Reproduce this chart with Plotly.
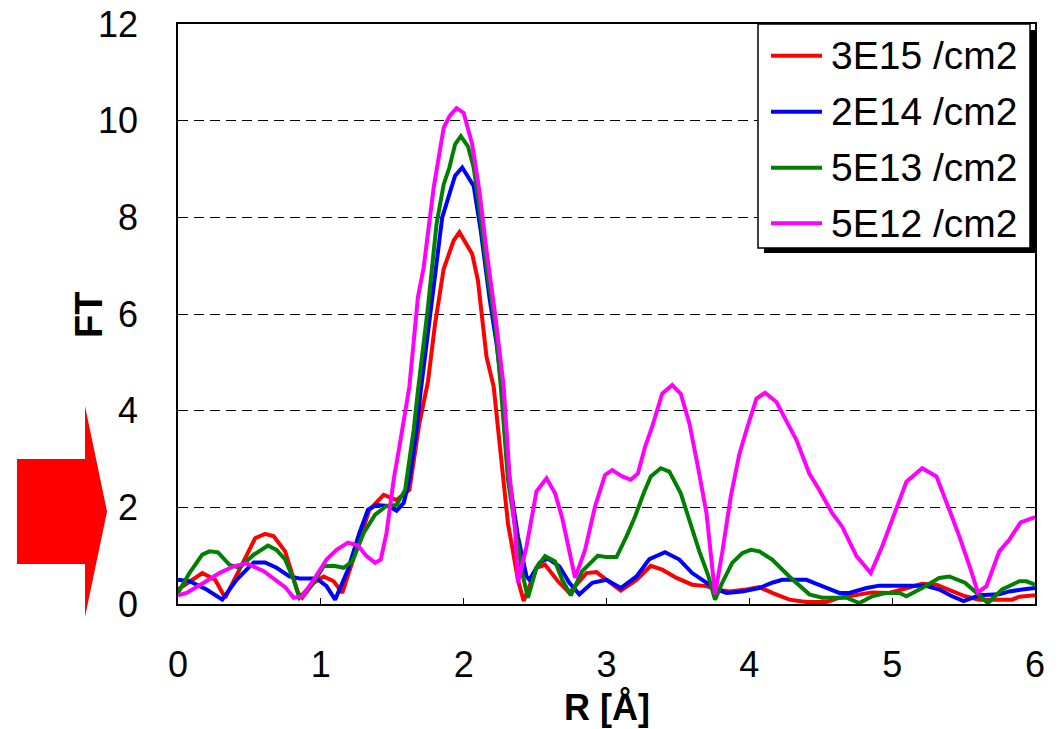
import plotly.graph_objects as go

# ---------------- data (R [Å], FT) ----------------
SERIES_NAMES = ["3E15 /cm2", "2E14 /cm2", "5E13 /cm2", "5E12 /cm2"]

R_3E15 = [0, 0.17, 0.26, 0.33, 0.43, 0.54, 0.61, 0.67, 0.75, 0.84, 0.87, 0.95, 1.02, 1.09, 1.15, 1.24,
          1.34, 1.44, 1.53, 1.62, 1.69, 1.75, 1.80, 1.86, 1.93, 1.97, 2.06, 2.10, 2.16, 2.21, 2.31, 2.38,
          2.42, 2.51, 2.57, 2.66, 2.74, 2.86, 2.93, 3.00, 3.10, 3.21, 3.31, 3.39, 3.49, 3.60, 3.70, 3.77,
          3.86, 3.98, 4.07, 4.16, 4.28, 4.40, 4.54, 4.63, 4.75, 4.86, 4.98, 5.10, 5.21, 5.31, 5.40, 5.51,
          5.61, 5.70, 5.84, 5.89, 6.00]
FT_3E15 = [0.30, 0.64, 0.50, 0.13, 0.71, 1.36, 1.45, 1.40, 1.09, 0.23, 0.13, 0.44, 0.57, 0.47, 0.23, 1.06,
           1.95, 2.26, 2.15, 2.36, 3.74, 4.60, 5.80, 6.93, 7.52, 7.69, 7.24, 6.69, 5.11, 4.50, 1.67, 0.50,
           0.06, 0.75, 0.81, 0.47, 0.23, 0.64, 0.66, 0.50, 0.28, 0.50, 0.79, 0.71, 0.54, 0.40, 0.37, 0.30,
           0.26, 0.30, 0.35, 0.23, 0.09, 0.04, 0.04, 0.13, 0.18, 0.24, 0.23, 0.33, 0.42, 0.40, 0.30, 0.16,
           0.09, 0.09, 0.09, 0.15, 0.18]

R_2E14 = [0, 0.08, 0.20, 0.31, 0.41, 0.53, 0.61, 0.69, 0.78, 0.85, 0.97, 1.04, 1.10, 1.19, 1.27, 1.33,
          1.39, 1.47, 1.53, 1.58, 1.62, 1.67, 1.70, 1.79, 1.85, 1.90, 1.94, 1.99, 2.07, 2.12, 2.18, 2.23,
          2.27, 2.32, 2.38, 2.44, 2.46, 2.53, 2.59, 2.67, 2.74, 2.81, 2.90, 3.00, 3.10, 3.21, 3.30, 3.41,
          3.51, 3.60, 3.70, 3.77, 3.84, 3.95, 4.07, 4.16, 4.23, 4.40, 4.51, 4.63, 4.70, 4.82, 4.91, 5.23,
          5.33, 5.42, 5.50, 5.61, 5.75, 5.82, 5.91, 6.00]
FT_2E14 = [0.50, 0.47, 0.30, 0.09, 0.50, 0.86, 0.86, 0.75, 0.57, 0.53, 0.53, 0.37, 0.09, 0.71, 1.47, 1.95,
           2.05, 2.03, 1.93, 2.09, 2.57, 3.60, 4.42, 6.48, 8.00, 8.48, 8.86, 9.03, 8.65, 7.72, 6.35, 5.39,
           4.42, 2.57, 1.40, 0.57, 0.50, 0.85, 0.94, 0.78, 0.44, 0.20, 0.44, 0.50, 0.33, 0.57, 0.93, 1.07,
           0.92, 0.64, 0.44, 0.30, 0.23, 0.26, 0.33, 0.44, 0.50, 0.50, 0.37, 0.23, 0.23, 0.33, 0.38, 0.38,
           0.30, 0.16, 0.06, 0.18, 0.20, 0.26, 0.30, 0.33]

R_5E13 = [0, 0.08, 0.17, 0.22, 0.28, 0.36, 0.43, 0.53, 0.63, 0.69, 0.75, 0.81, 0.85, 0.95, 1.02, 1.09,
          1.16, 1.22, 1.30, 1.38, 1.46, 1.53, 1.59, 1.65, 1.68, 1.75, 1.81, 1.86, 1.90, 1.94, 1.98, 2.03,
          2.07, 2.11, 2.17, 2.22, 2.26, 2.31, 2.37, 2.41, 2.45, 2.51, 2.57, 2.64, 2.69, 2.75, 2.83, 2.94,
          3.00, 3.07, 3.14, 3.20, 3.26, 3.31, 3.38, 3.44, 3.52, 3.58, 3.65, 3.71, 3.76, 3.81, 3.88, 3.95,
          4.01, 4.07, 4.16, 4.28, 4.42, 4.51, 4.68, 4.77, 4.86, 4.96, 5.05, 5.10, 5.21, 5.33, 5.40, 5.51,
          5.61, 5.67, 5.77, 5.89, 5.94, 6.00]
FT_5E13 = [0.23, 0.64, 1.02, 1.09, 1.07, 0.81, 0.75, 1.02, 1.21, 1.12, 0.92, 0.50, 0.13, 0.44, 0.78, 0.79,
           0.75, 0.88, 1.47, 1.85, 2.03, 2.05, 2.36, 3.60, 4.42, 6.14, 7.86, 8.68, 9.03, 9.51, 9.68, 9.47,
           9.03, 8.20, 6.76, 5.80, 4.50, 2.57, 1.40, 0.64, 0.13, 0.75, 0.99, 0.88, 0.50, 0.18, 0.68, 1.00,
           0.97, 0.97, 1.40, 1.81, 2.29, 2.64, 2.81, 2.74, 2.29, 1.74, 1.09, 0.61, 0.09, 0.44, 0.85, 1.05,
           1.12, 1.09, 0.92, 0.57, 0.20, 0.13, 0.13, 0.02, 0.16, 0.23, 0.23, 0.16, 0.33, 0.54, 0.57, 0.44,
           0.18, 0.02, 0.30, 0.47, 0.47, 0.40]

R_5E12 = [0, 0.06, 0.18, 0.29, 0.39, 0.48, 0.60, 0.69, 0.75, 0.81, 0.87, 0.95, 1.04, 1.11, 1.19, 1.26,
          1.32, 1.38, 1.42, 1.46, 1.51, 1.55, 1.59, 1.62, 1.68, 1.72, 1.79, 1.86, 1.90, 1.95, 2.00, 2.06,
          2.11, 2.16, 2.22, 2.28, 2.32, 2.36, 2.38, 2.44, 2.51, 2.58, 2.64, 2.69, 2.78, 2.85, 2.92, 2.99,
          3.04, 3.11, 3.17, 3.22, 3.27, 3.32, 3.39, 3.46, 3.52, 3.58, 3.64, 3.70, 3.76, 3.81, 3.87, 3.93,
          3.98, 4.05, 4.11, 4.19, 4.28, 4.33, 4.42, 4.49, 4.58, 4.65, 4.75, 4.85, 4.93, 5.03, 5.10, 5.21,
          5.31, 5.40, 5.47, 5.55, 5.60, 5.66, 5.75, 5.82, 5.90, 6.00]
FT_5E12 = [0.18, 0.23, 0.44, 0.64, 0.78, 0.84, 0.68, 0.47, 0.35, 0.13, 0.16, 0.50, 0.92, 1.12, 1.27, 1.21,
           0.99, 0.85, 0.92, 1.47, 2.57, 3.25, 3.94, 4.50, 6.35, 6.96, 8.61, 9.85, 10.09, 10.26, 10.16, 9.51,
           8.55, 7.31, 6.00, 4.50, 2.70, 1.54, 0.44, 1.19, 2.33, 2.60, 2.29, 1.78, 0.54, 1.12, 2.02, 2.67,
           2.77, 2.64, 2.57, 2.70, 3.25, 3.67, 4.35, 4.53, 4.35, 3.74, 2.84, 1.88, 0.20, 1.06, 2.22, 3.10,
           3.60, 4.25, 4.37, 4.18, 3.67, 3.39, 2.70, 2.36, 1.88, 1.60, 0.99, 0.64, 1.19, 1.95, 2.53, 2.81,
           2.64, 1.95, 1.40, 0.71, 0.24, 0.37, 1.09, 1.33, 1.69, 1.80]

X_TICKS = [0, 1, 2, 3, 4, 5, 6]
Y_TICKS = [0, 2, 4, 6, 8, 10, 12]
X_TITLE = "R [Å]"
Y_TITLE = "FT"

# ---------------- styling ----------------
COLORS = ["#FF0000", "#0000FF", "#008000", "#FF00FF"]
FONT = "Arial, 'Liberation Sans', sans-serif"
W, H = 1059, 729
ML, MR, MT, MB = 178, 24, 24, 125
PW, PH = W - ML - MR, H - MT - MB


def px(x):
    return (x - ML) / PW


def py(y):
    return (H - MB - y) / PH


fig = go.Figure()
for name, r, ft, c in zip(SERIES_NAMES, [R_3E15, R_2E14, R_5E13, R_5E12],
                          [FT_3E15, FT_2E14, FT_5E13, FT_5E12], COLORS):
    assert len(r) == len(ft), name
    fig.add_trace(go.Scatter(x=r, y=ft, mode="lines", name=name,
                             line=dict(color=c, width=4)))

# red block arrow left of the y axis
arrow = [(17, 459), (85, 459), (85, 406), (107, 511.5), (85, 617), (85, 564), (17, 564)]
path = "M " + " L ".join(f"{px(a):.4f},{py(b):.4f}" for a, b in arrow) + " Z"
shapes = [
    dict(type="path", xref="paper", yref="paper", path=path,
         fillcolor="#FF0000", line=dict(width=0), layer="above"),
    # legend drop shadow + box
    dict(type="rect", xref="paper", yref="paper",
         x0=px(764), x1=px(1036), y0=py(253), y1=py(30),
         fillcolor="black", line=dict(width=0), layer="above"),
    dict(type="rect", xref="paper", yref="paper",
         x0=px(758), x1=px(1030), y0=py(248), y1=py(24),
         fillcolor="white", line=dict(color="black", width=1.5), layer="above"),
]
annotations = []
row_y = [55.7, 111.7, 167.7, 223.3]
for name, c, ry in zip(SERIES_NAMES, COLORS, row_y):
    shapes.append(dict(type="line", xref="paper", yref="paper",
                       x0=px(771), x1=px(822), y0=py(ry), y1=py(ry),
                       line=dict(color=c, width=4), layer="above"))
    annotations.append(dict(xref="paper", yref="paper", x=px(829), y=py(ry),
                            xanchor="left", yanchor="middle", showarrow=False,
                            text=name, font=dict(family=FONT, size=39, color="black")))

# axis titles
annotations.append(dict(xref="paper", yref="paper", x=0.5, y=py(707),
                        xanchor="center", yanchor="middle", showarrow=False,
                        text=X_TITLE, font=dict(family=FONT, size=36, weight="bold")))
annotations.append(dict(xref="paper", yref="paper", x=px(89), y=py(315),
                        xanchor="center", yanchor="middle", showarrow=False, textangle=-90,
                        text=Y_TITLE, font=dict(family=FONT, size=38, weight="bold")))

fig.update_layout(
    width=W, height=H,
    margin=dict(l=ML, r=MR, t=MT, b=MB, pad=0),
    paper_bgcolor="white", plot_bgcolor="white",
    font=dict(family=FONT, size=36, color="black"),
    showlegend=False,
    shapes=shapes,
    annotations=annotations,
    xaxis=dict(range=[0, 6], tickvals=X_TICKS, ticktext=[str(v) for v in X_TICKS],
               showgrid=False, zeroline=False, automargin=False,
               showline=True, linecolor="black", linewidth=1.5, mirror=True,
               ticks="inside", ticklen=6, tickcolor="black", tickwidth=1,
               ticklabelstandoff=28,
               tickfont=dict(family=FONT, size=36)),
    yaxis=dict(range=[0, 12], tickvals=Y_TICKS, ticktext=[str(v) for v in Y_TICKS],
               showgrid=True, gridcolor="black", gridwidth=1, griddash="10px,6px",
               zeroline=False, automargin=False,
               showline=True, linecolor="black", linewidth=1.5, mirror=True,
               ticks="inside", ticklen=6, tickcolor="black", tickwidth=1,
               ticklabelstandoff=31,
               tickfont=dict(family=FONT, size=36)),
)

fig.write_html("out.html")
